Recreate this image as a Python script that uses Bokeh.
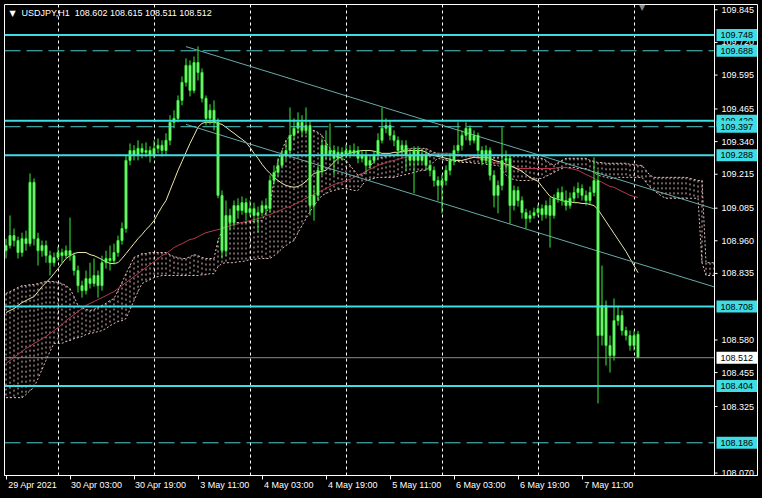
from bokeh.plotting import figure
from bokeh.models import (FixedTicker, Span, Label, ColumnDataSource, Range1d,
                          NumeralTickFormatter, LinearAxis)
from bokeh.embed import file_html
from bokeh.resources import INLINE

# ---------------- data ----------------
opens = [108.922, 108.942, 108.980, 108.961, 108.915, 108.968, 108.949, 109.184, 108.968, 108.922,
         108.942, 108.903, 108.876, 108.896, 108.915, 108.903, 108.922, 108.903, 108.846, 108.788,
         108.769, 108.815, 108.796, 108.827, 108.788, 108.876, 108.892, 108.884, 108.915, 108.961,
         109.007, 109.268, 109.306, 109.287, 109.314, 109.299, 109.306, 109.287, 109.314, 109.326,
         109.306, 109.345, 109.414, 109.429, 109.498, 109.567, 109.632, 109.536, 109.643, 109.605,
         109.506, 109.429, 109.460, 109.414, 109.134, 108.922, 109.057, 109.030, 109.095, 109.076,
         109.106, 109.068, 109.083, 109.057, 109.068, 109.095, 109.083, 109.191, 109.222, 109.249,
         109.287, 109.306, 109.364, 109.391, 109.414, 109.383, 109.402, 109.095, 109.134, 109.230,
         109.326, 109.287, 109.306, 109.276, 109.299, 109.287, 109.306, 109.295, 109.306, 109.276,
         109.287, 109.249, 109.268, 109.287, 109.345, 109.391, 109.402, 109.364, 109.345, 109.306,
         109.326, 109.287, 109.268, 109.306, 109.268, 109.287, 109.249, 109.230, 109.191, 109.172,
         109.191, 109.230, 109.268, 109.306, 109.326, 109.364, 109.391, 109.345, 109.364, 109.306,
         109.268, 109.306, 109.211, 109.134, 109.172, 109.268, 109.276, 109.095, 109.153, 109.114,
         109.068, 109.045, 109.057, 109.068, 109.083, 109.060, 109.095, 109.057, 109.123, 109.145,
         109.114, 109.095, 109.123, 109.145, 109.160, 109.134, 109.114, 109.145, 109.191, 108.597,
         108.712, 108.559, 108.520, 108.654, 108.674, 108.616, 108.597, 108.559, 108.602]
highs = [108.968, 109.057, 109.007, 108.976, 108.991, 108.999, 109.218, 109.199, 108.991, 108.961,
         108.961, 108.922, 108.915, 108.938, 108.930, 108.942, 109.049, 108.915, 108.865, 108.807,
         108.846, 108.876, 108.892, 108.846, 108.903, 108.922, 108.942, 108.949, 108.980, 109.030,
         109.287, 109.333, 109.326, 109.345, 109.333, 109.337, 109.322, 109.345, 109.352, 109.345,
         109.372, 109.441, 109.460, 109.517, 109.590, 109.659, 109.651, 109.666, 109.705, 109.620,
         109.517, 109.483, 109.498, 109.429, 109.153, 109.114, 109.083, 109.114, 109.123, 109.130,
         109.123, 109.114, 109.106, 109.091, 109.114, 109.123, 109.211, 109.249, 109.276, 109.306,
         109.337, 109.471, 109.429, 109.452, 109.441, 109.471, 109.421, 109.172, 109.249, 109.352,
         109.383, 109.410, 109.326, 109.322, 109.318, 109.329, 109.326, 109.333, 109.322, 109.306,
         109.306, 109.287, 109.306, 109.372, 109.471, 109.429, 109.421, 109.383, 109.360, 109.345,
         109.345, 109.306, 109.322, 109.322, 109.306, 109.306, 109.268, 109.245, 109.207, 109.214,
         109.249, 109.287, 109.326, 109.414, 109.383, 109.414, 109.402, 109.383, 109.375, 109.322,
         109.326, 109.318, 109.230, 109.191, 109.395, 109.306, 109.287, 109.172, 109.168, 109.130,
         109.083, 109.076, 109.087, 109.099, 109.099, 109.114, 109.126, 109.138, 109.161, 109.168,
         109.153, 109.145, 109.168, 109.184, 109.176, 109.153, 109.168, 109.280, 109.230, 108.865,
         108.731, 108.597, 108.739, 108.712, 108.693, 108.631, 108.616, 108.616, 108.615]
lows = [108.892, 108.930, 108.938, 108.892, 108.899, 108.922, 108.938, 108.942, 108.865, 108.899,
        108.876, 108.827, 108.861, 108.884, 108.876, 108.892, 108.884, 108.827, 108.762, 108.742,
        108.754, 108.777, 108.784, 108.742, 108.769, 108.853, 108.846, 108.869, 108.899, 108.945,
        108.991, 109.249, 109.268, 109.268, 109.276, 109.280, 109.260, 109.276, 109.295, 109.283,
        109.287, 109.326, 109.391, 109.414, 109.479, 109.551, 109.513, 109.525, 109.574, 109.490,
        109.402, 109.406, 109.383, 109.123, 108.892, 108.903, 108.999, 109.014, 109.045, 109.060,
        109.037, 109.053, 109.030, 108.991, 109.053, 109.060, 109.068, 109.176, 109.207, 109.237,
        109.268, 109.291, 109.345, 109.372, 109.360, 109.368, 109.057, 109.037, 109.114, 109.211,
        109.268, 109.268, 109.211, 109.260, 109.268, 109.276, 109.276, 109.283, 109.257, 109.260,
        109.222, 109.237, 109.257, 109.276, 109.333, 109.372, 109.345, 109.322, 109.283, 109.287,
        109.230, 109.245, 109.142, 109.249, 109.257, 109.230, 109.207, 109.168, 109.114, 109.065,
        109.172, 109.211, 109.249, 109.295, 109.306, 109.345, 109.326, 109.333, 109.287, 109.249,
        109.257, 109.191, 109.088, 109.065, 109.153, 109.230, 109.026, 109.076, 109.091, 109.045,
        109.007, 109.030, 109.045, 109.053, 109.037, 109.045, 108.934, 109.045, 109.106, 109.095,
        109.076, 109.083, 109.106, 109.123, 109.114, 109.095, 109.099, 109.130, 108.337, 108.559,
        108.482, 108.455, 108.501, 108.635, 108.597, 108.578, 108.539, 108.539, 108.511]
closes = [108.942, 108.980, 108.961, 108.915, 108.968, 108.949, 109.184, 108.968, 108.922, 108.942,
          108.903, 108.876, 108.896, 108.915, 108.903, 108.922, 108.903, 108.846, 108.788, 108.769,
          108.815, 108.796, 108.827, 108.788, 108.876, 108.892, 108.884, 108.915, 108.961, 109.007,
          109.268, 109.306, 109.287, 109.314, 109.299, 109.306, 109.287, 109.314, 109.326, 109.306,
          109.345, 109.414, 109.429, 109.498, 109.567, 109.632, 109.536, 109.643, 109.605, 109.506,
          109.429, 109.460, 109.414, 109.134, 108.922, 109.057, 109.030, 109.095, 109.076, 109.106,
          109.068, 109.083, 109.057, 109.068, 109.095, 109.083, 109.191, 109.222, 109.249, 109.287,
          109.306, 109.364, 109.391, 109.414, 109.383, 109.402, 109.095, 109.134, 109.230, 109.326,
          109.287, 109.306, 109.276, 109.299, 109.287, 109.306, 109.295, 109.306, 109.276, 109.287,
          109.249, 109.268, 109.287, 109.345, 109.391, 109.402, 109.364, 109.345, 109.306, 109.326,
          109.287, 109.268, 109.306, 109.268, 109.287, 109.249, 109.230, 109.191, 109.172, 109.191,
          109.230, 109.268, 109.306, 109.326, 109.364, 109.391, 109.345, 109.364, 109.306, 109.268,
          109.306, 109.211, 109.134, 109.172, 109.268, 109.276, 109.095, 109.153, 109.114, 109.068,
          109.045, 109.057, 109.068, 109.083, 109.060, 109.095, 109.057, 109.123, 109.145, 109.114,
          109.095, 109.123, 109.145, 109.160, 109.134, 109.114, 109.145, 109.191, 108.597, 108.712,
          108.559, 108.520, 108.654, 108.674, 108.616, 108.597, 108.559, 108.597, 108.512]

ma_fast = [108.685, 108.693, 108.700, 108.712, 108.723, 108.731, 108.739, 108.746, 108.765, 108.784,
           108.800, 108.815, 108.834, 108.853, 108.873, 108.892, 108.903, 108.911, 108.915, 108.915,
           108.915, 108.907, 108.903, 108.896, 108.888, 108.880, 108.873, 108.873, 108.876, 108.892,
           108.911, 108.930, 108.949, 108.968, 108.984, 109.003, 109.018, 109.037, 109.065, 109.091,
           109.114, 109.153, 109.191, 109.230, 109.264, 109.299, 109.333, 109.364, 109.395, 109.410,
           109.414, 109.414, 109.414, 109.410, 109.406, 109.395, 109.383, 109.372, 109.360, 109.349,
           109.337, 109.318, 109.295, 109.276, 109.253, 109.234, 109.218, 109.203, 109.191, 109.180,
           109.172, 109.168, 109.165, 109.168, 109.176, 109.188, 109.203, 109.218, 109.222, 109.226,
           109.230, 109.245, 109.260, 109.276, 109.283, 109.291, 109.295, 109.299, 109.303, 109.306,
           109.306, 109.306, 109.303, 109.299, 109.295, 109.295, 109.295, 109.299, 109.299, 109.303,
           109.303, 109.306, 109.306, 109.306, 109.306, 109.299, 109.291, 109.287, 109.283, 109.280,
           109.276, 109.272, 109.268, 109.268, 109.268, 109.272, 109.276, 109.280, 109.280, 109.280,
           109.280, 109.276, 109.268, 109.264, 109.260, 109.253, 109.249, 109.241, 109.234, 109.226,
           109.214, 109.203, 109.195, 109.188, 109.168, 109.149, 109.130, 109.123, 109.119, 109.114,
           109.110, 109.110, 109.106, 109.106, 109.103, 109.103, 109.099, 109.095, 109.080, 109.057,
           109.034, 109.011, 108.988, 108.965, 108.942, 108.919, 108.892, 108.865, 108.838]
ma_slow = [108.490, 108.502, 108.513, 108.525, 108.536, 108.548, 108.555, 108.567, 108.574, 108.585,
           108.593, 108.605, 108.616, 108.628, 108.639, 108.654, 108.666, 108.677, 108.689, 108.700,
           108.712, 108.720, 108.727, 108.735, 108.742, 108.750, 108.758, 108.765, 108.777, 108.788,
           108.800, 108.811, 108.823, 108.834, 108.846, 108.857, 108.869, 108.880, 108.892, 108.903,
           108.911, 108.922, 108.934, 108.942, 108.949, 108.957, 108.965, 108.968, 108.976, 108.984,
           108.991, 108.995, 108.999, 109.003, 109.007, 109.011, 109.018, 109.022, 109.026, 109.030,
           109.034, 109.037, 109.041, 109.045, 109.049, 109.057, 109.060, 109.068, 109.072, 109.080,
           109.087, 109.091, 109.099, 109.106, 109.114, 109.123, 109.130, 109.138, 109.145, 109.153,
           109.160, 109.168, 109.176, 109.180, 109.184, 109.191, 109.195, 109.203, 109.211, 109.218,
           109.226, 109.234, 109.241, 109.249, 109.253, 109.260, 109.264, 109.268, 109.272, 109.276,
           109.280, 109.283, 109.287, 109.287, 109.291, 109.291, 109.291, 109.295, 109.295, 109.295,
           109.295, 109.295, 109.291, 109.291, 109.287, 109.287, 109.283, 109.280, 109.276, 109.272,
           109.268, 109.264, 109.260, 109.257, 109.253, 109.249, 109.245, 109.241, 109.237, 109.237,
           109.237, 109.237, 109.237, 109.237, 109.237, 109.237, 109.237, 109.237, 109.241, 109.241,
           109.241, 109.237, 109.234, 109.230, 109.222, 109.214, 109.207, 109.199, 109.191, 109.184,
           109.176, 109.168, 109.165, 109.157, 109.149, 109.142, 109.134, 109.130, 109.126]

cloud_top = [108.758, 108.765, 108.773, 108.781, 108.788, 108.788, 108.792, 108.792, 108.796, 108.800,
             108.804, 108.804, 108.804, 108.800, 108.796, 108.788, 108.777, 108.746, 108.712, 108.704,
             108.697, 108.693, 108.697, 108.704, 108.712, 108.720, 108.731, 108.739, 108.769, 108.800,
             108.834, 108.865, 108.896, 108.903, 108.911, 108.911, 108.915, 108.915, 108.915, 108.915,
             108.915, 108.907, 108.899, 108.896, 108.892, 108.892, 108.899, 108.907, 108.903, 108.896,
             108.892, 108.892, 108.892, 108.961, 108.999, 109.022, 109.030, 109.030, 109.030, 109.030,
             109.030, 109.034, 109.034, 109.037, 109.037, 109.068, 109.095, 109.191, 109.268, 109.306,
             109.345, 109.360, 109.372, 109.379, 109.383, 109.383, 109.383, 109.383, 109.375, 109.364,
             109.337, 109.314, 109.287, 109.280, 109.276, 109.268, 109.249, 109.230, 109.211, 109.214,
             109.222, 109.245, 109.264, 109.276, 109.280, 109.283, 109.287, 109.287, 109.295, 109.303,
             109.310, 109.314, 109.314, 109.314, 109.314, 109.314, 109.306, 109.299, 109.295, 109.295,
             109.295, 109.295, 109.291, 109.291, 109.287, 109.287, 109.287, 109.287, 109.287, 109.287,
             109.283, 109.283, 109.280, 109.280, 109.283, 109.287, 109.287, 109.287, 109.287, 109.287,
             109.287, 109.283, 109.280, 109.276, 109.276, 109.268, 109.257, 109.249, 109.260, 109.268,
             109.276, 109.276, 109.276, 109.276, 109.276, 109.276, 109.268, 109.264, 109.260, 109.260,
             109.257, 109.257, 109.257, 109.257, 109.257, 109.257, 109.253, 109.253, 109.249, 109.249,
             109.230, 109.211, 109.203, 109.203, 109.203, 109.203, 109.203, 109.203, 109.203, 109.203,
             109.203, 109.199, 109.195, 109.191, 109.191, 108.876, 108.876, 108.876]
cloud_bottom = [108.359, 108.359, 108.359, 108.359, 108.359, 108.371, 108.386, 108.398, 108.432, 108.467,
                108.502, 108.536, 108.567, 108.567, 108.567, 108.574, 108.578, 108.585, 108.589, 108.593,
                108.601, 108.605, 108.608, 108.612, 108.616, 108.624, 108.635, 108.643, 108.651, 108.654,
                108.662, 108.697, 108.731, 108.765, 108.796, 108.804, 108.811, 108.819, 108.823, 108.827,
                108.827, 108.827, 108.827, 108.827, 108.827, 108.827, 108.827, 108.827, 108.827, 108.830,
                108.830, 108.834, 108.834, 108.861, 108.873, 108.876, 108.876, 108.876, 108.880, 108.880,
                108.884, 108.888, 108.888, 108.892, 108.892, 108.892, 108.892, 108.903, 108.915, 108.930,
                108.942, 108.953, 108.961, 108.991, 109.018, 109.045, 109.072, 109.095, 109.114, 109.134,
                109.141, 109.149, 109.153, 109.157, 109.160, 109.160, 109.157, 109.153, 109.153, 109.172,
                109.191, 109.195, 109.199, 109.203, 109.203, 109.203, 109.203, 109.203, 109.207, 109.211,
                109.214, 109.218, 109.222, 109.226, 109.230, 109.230, 109.245, 109.264, 109.276, 109.272,
                109.268, 109.268, 109.264, 109.264, 109.260, 109.260, 109.260, 109.257, 109.257, 109.257,
                109.253, 109.253, 109.249, 109.249, 109.230, 109.211, 109.199, 109.195, 109.191, 109.191,
                109.191, 109.191, 109.195, 109.199, 109.199, 109.207, 109.214, 109.222, 109.230, 109.237,
                109.241, 109.241, 109.241, 109.237, 109.237, 109.237, 109.230, 109.222, 109.211, 109.207,
                109.203, 109.199, 109.199, 109.203, 109.203, 109.203, 109.203, 109.203, 109.203, 109.203,
                109.184, 109.165, 109.153, 109.141, 109.130, 109.123, 109.123, 109.123, 109.123, 109.123,
                109.123, 109.123, 109.123, 109.123, 108.876, 108.827, 108.827, 108.827]

channel_x = [45, 177.125]
channel_upper = [109.704, 109.082]
channel_lower = [109.406, 108.783]

solid_levels = [109.748, 109.420, 109.288, 108.708, 108.404]
dashed_levels = [109.688, 109.397, 108.186]
bid_level = 108.512
tag_order = [109.748, 109.420, 109.688, 109.397, 109.288, 108.708, 108.404, 108.186]

y_ticks = [109.845, 109.720, 109.595, 109.465, 109.340, 109.215, 109.085, 108.960,
           108.835, 108.580, 108.455, 108.325, 108.070]
x_tick_pos = [0, 16, 32, 48, 64, 80, 96, 112, 128, 144]
x_tick_labels = ["29 Apr 2021", "30 Apr 03:00", "30 Apr 19:00", "3 May 11:00", "4 May 03:00",
                 "4 May 19:00", "5 May 11:00", "6 May 03:00", "6 May 19:00", "7 May 11:00"]
day_sep = [13, 37, 61, 85, 109, 133, 157]

title_text = "USDJPY,H1\u00a0\u00a0108.602 108.615 108.511 108.512"

# ---------------- layout constants ----------------
FONT = "Liberation Sans"
CYAN = "#3fdce4"
CYAN_D = "#52cccc"
X0, X1 = -0.375, 187.875          # x range (bar index); 4 px per bar
PLOT_EDGE = 177.125               # price-scale separator line
TAG_X = 177.625                   # left edge of price tags
LABEL_SHIFT = 6.7                 # date label centre, right of its tick

p = figure(width=762, height=498, output_backend="svg", toolbar_location=None,
           x_range=Range1d(X0, X1), y_range=Range1d(108.0607, 109.8653),
           y_axis_location="right", background_fill_color="black",
           border_fill_color="black", outline_line_color="white",
           min_border_left=4, min_border_top=4, min_border_right=5, min_border_bottom=23)

# x axis 1: tick marks only
xa = p.xaxis[0]
xa.ticker = FixedTicker(ticks=x_tick_pos)
xa.major_label_overrides = {t: "" for t in x_tick_pos}
xa.major_label_text_font_size = "1px"
xa.major_label_standoff = 0
xa.axis_line_color = "white"
xa.major_tick_line_color = "white"
xa.minor_tick_line_color = None
xa.major_tick_in = 0
xa.major_tick_out = 4

# x axis 2: date labels, starting at each tick
centers = [t + LABEL_SHIFT for t in x_tick_pos]
xb = LinearAxis(ticker=FixedTicker(ticks=centers),
                major_label_overrides={c: s for c, s in zip(centers, x_tick_labels)})
xb.axis_line_color = None
xb.major_tick_line_color = None
xb.minor_tick_line_color = None
xb.major_tick_in = 0
xb.major_tick_out = 0
xb.major_label_standoff = 0
xb.major_label_text_color = "white"
xb.major_label_text_font = FONT
xb.major_label_text_font_size = "9px"
p.add_layout(xb, "below")

# y axis: price labels drawn into the price-scale strip
ya = p.yaxis[0]
ya.ticker = FixedTicker(ticks=y_ticks)
ya.formatter = NumeralTickFormatter(format="0.000")
ya.axis_line_color = None
ya.major_tick_line_color = None
ya.minor_tick_line_color = None
ya.major_tick_in = 0
ya.major_tick_out = 0
ya.major_label_standoff = -36
ya.major_label_text_color = "white"
ya.major_label_text_font = FONT
ya.major_label_text_font_size = "9px"

p.xgrid.ticker = FixedTicker(ticks=day_sep)
p.xgrid.grid_line_color = "white"
p.xgrid.grid_line_dash = "3 3"
p.xgrid.grid_line_width = 1
p.ygrid.visible = False

# Ichimoku cloud (dotted histogram)
cloud_x = list(range(len(cloud_top)))
CLOUD = "#e2bcbc"
p.segment(x0=cloud_x, y0=cloud_top, x1=cloud_x, y1=cloud_bottom,
          line_color=CLOUD, line_width=1, line_dash="2 3")
p.line(cloud_x, cloud_top, line_color=CLOUD, line_width=1, line_dash="2 2")
p.line(cloud_x, cloud_bottom, line_color=CLOUD, line_width=1, line_dash="2 2")

# moving averages
idx = list(range(len(closes)))
p.line(idx, ma_slow, line_color="#b23a4c", line_width=1)
p.line(idx, ma_fast, line_color="#eee8aa", line_width=1)

# channel lines
p.line(channel_x, channel_upper, line_color="#68aaaa", line_width=1)
p.line(channel_x, channel_lower, line_color="#68aaaa", line_width=1)

# candles
src = ColumnDataSource(dict(
    x=idx, o=opens, h=highs, l=lows, c=closes,
    top=[max(a, b) for a, b in zip(opens, closes)],
    bottom=[min(a, b) for a, b in zip(opens, closes)],
))
p.segment(x0="x", y0="h", x1="x", y1="l", source=src, line_color="#36f036", line_width=1)
p.vbar(x="x", width=0.5, top="top", bottom="bottom", source=src,
       fill_color="#a0f4a0", line_color="#36f036", line_width=1)

# horizontal levels (stop at the price-scale separator)
n_s = len(solid_levels)
p.segment(x0=[X0] * n_s, y0=solid_levels, x1=[PLOT_EDGE] * n_s, y1=solid_levels,
          line_color=CYAN, line_width=2)
n_d = len(dashed_levels)
p.segment(x0=[X0] * n_d, y0=dashed_levels, x1=[PLOT_EDGE] * n_d, y1=dashed_levels,
          line_color=CYAN_D, line_width=1, line_dash="16 6")
p.segment(x0=[X0], y0=[bid_level], x1=[PLOT_EDGE], y1=[bid_level],
          line_color="#8c8c8c", line_width=1)

# price-scale separator and its tick marks
p.add_layout(Span(location=PLOT_EDGE, dimension="height", line_color="white", line_width=1))
n_t = len(y_ticks)
p.segment(x0=[PLOT_EDGE] * n_t, y0=y_ticks, x1=[PLOT_EDGE + 0.75] * n_t, y1=y_ticks,
          line_color="white", line_width=1)

# price tags (padding is (x, y))
for lv in tag_order:
    p.add_layout(Label(x=TAG_X, y=lv, text=f"{lv:.3f}",
                       text_font=FONT, text_font_size="9px", text_color="black",
                       text_baseline="middle", background_fill_color=CYAN,
                       padding=(4, 3)))
p.add_layout(Label(x=TAG_X, y=bid_level, text=f"{bid_level:.3f}",
                   text_font=FONT, text_font_size="9px", text_color="black",
                   text_baseline="middle", background_fill_color="white",
                   padding=(4, 3)))

# title
p.add_layout(Label(x=5, x_units="screen", y=109.831, text="\u25bc",
                   text_font="DejaVu Sans", text_font_size="8px", text_color="white",
                   text_baseline="middle"))
p.add_layout(Label(x=17, x_units="screen", y=109.831, text=title_text,
                   text_font=FONT, text_font_size="9px", text_color="white",
                   text_baseline="middle"))
# chart shift marker
p.add_layout(Label(x=159, y=109.853, text="\u25bc", text_align="center",
                   text_font="DejaVu Sans", text_font_size="8px", text_color="#8a8a8a",
                   text_baseline="middle"))

html = file_html(p, INLINE)
html = html.replace("</head>", "<style>html,body{background:#000000;}</style></head>", 1)
open("out.html", "w").write(html)
